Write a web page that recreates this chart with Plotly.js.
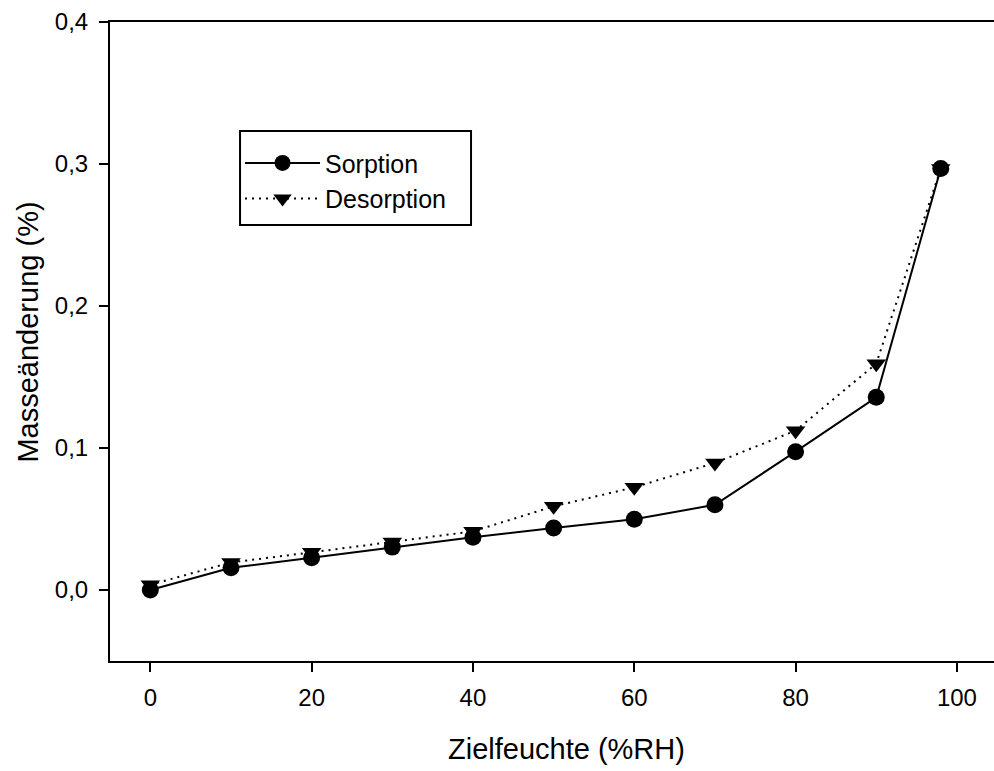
<!DOCTYPE html>
<html>
<head>
<meta charset="utf-8">
<script src="https://cdn.plot.ly/plotly-3.0.1.min.js"></script>
<style>html,body{margin:0;padding:0;background:#fff;}#chart{width:994px;height:771px;}</style>
</head>
<body>
<div id="chart"></div>
<script>
const humidity = [0, 10, 20, 30, 40, 50, 60, 70, 80, 90, 98];
const sorption = [0.000, 0.0156, 0.0227, 0.0302, 0.0372, 0.0437, 0.0498, 0.0600, 0.0974, 0.1357, 0.2968];
const desorption = [0.0037, 0.0194, 0.0265, 0.0338, 0.0413, 0.0589, 0.0723, 0.0895, 0.1122, 0.1594, 0.2968];
const xTicks = [0, 20, 40, 60, 80, 100];
const yTicks = [0, 0.1, 0.2, 0.3, 0.4];
const yTickText = ['0,0', '0,1', '0,2', '0,3', '0,4'];
const xTitle = 'Zielfeuchte (%RH)';
const yTitle = 'Masseänderung (%)';

const FONT = 'Liberation Sans, Arial, sans-serif';

const traces = [
  {
    x: humidity, y: desorption, name: 'Desorption', type: 'scatter', mode: 'lines+markers',
    line: {color: '#000', width: 2, dash: '2px,5px'},
    marker: {symbol: 'triangle-down', size: 17, color: '#000'}
  },
  {
    x: humidity, y: sorption, name: 'Sorption', type: 'scatter', mode: 'lines+markers',
    line: {color: '#000', width: 2},
    marker: {symbol: 'circle', size: 17, color: '#000'}
  }
];

const layout = {
  width: 994, height: 771,
  margin: {l: 110, r: 0, t: 22, b: 110},
  paper_bgcolor: '#fff', plot_bgcolor: '#fff',
  font: {family: FONT, color: '#000', size: 24},
  showlegend: true,
  legend: {
    x: 0.1471, y: 0.815, xanchor: 'left', yanchor: 'top',
    traceorder: 'reversed',
    borderwidth: 0, bgcolor: 'rgba(0,0,0,0)',
    font: {family: FONT, size: 25, color: '#000'},
    itemwidth: 75
  },
  shapes: [{
    type: 'rect', xref: 'paper', yref: 'paper',
    x0: 0.1471, x1: 0.4084, y0: 0.6823, y1: 0.8294,
    line: {color: '#000', width: 2}, fillcolor: 'rgba(0,0,0,0)', layer: 'above'
  }],
  annotations: [
    {text: xTitle, xref: 'paper', yref: 'paper', x: 0.516, y: 0, xanchor: 'center', yanchor: 'middle',
     yshift: -88, showarrow: false, font: {family: FONT, size: 29, color: '#000'}},
    {text: yTitle, xref: 'paper', yref: 'paper', x: 0, y: 0.514, xanchor: 'center', yanchor: 'middle',
     xshift: -82, textangle: -90, showarrow: false, font: {family: FONT, size: 29, color: '#000'}}
  ],
  xaxis: {
    range: [-5, 104.6],
    tickmode: 'array', tickvals: xTicks, ticktext: xTicks.map(String),
    ticks: 'outside', ticklen: 9, tickwidth: 2, tickcolor: '#000',
    ticklabelstandoff: 5,
    showline: true, linecolor: '#000', linewidth: 2, mirror: true,
    showgrid: false, zeroline: false,
    tickfont: {family: FONT, size: 24, color: '#000'}
  },
  yaxis: {
    range: [-0.05, 0.4],
    tickmode: 'array', tickvals: yTicks, ticktext: yTickText,
    ticks: 'outside', ticklen: 9, tickwidth: 2, tickcolor: '#000',
    ticklabelstandoff: 6,
    showline: true, linecolor: '#000', linewidth: 2, mirror: false,
    showgrid: false, zeroline: false,
    tickfont: {family: FONT, size: 24, color: '#000'}
  }
};

Plotly.newPlot('chart', traces, layout, {displayModeBar: false, staticPlot: true});
</script>
</body>
</html>
